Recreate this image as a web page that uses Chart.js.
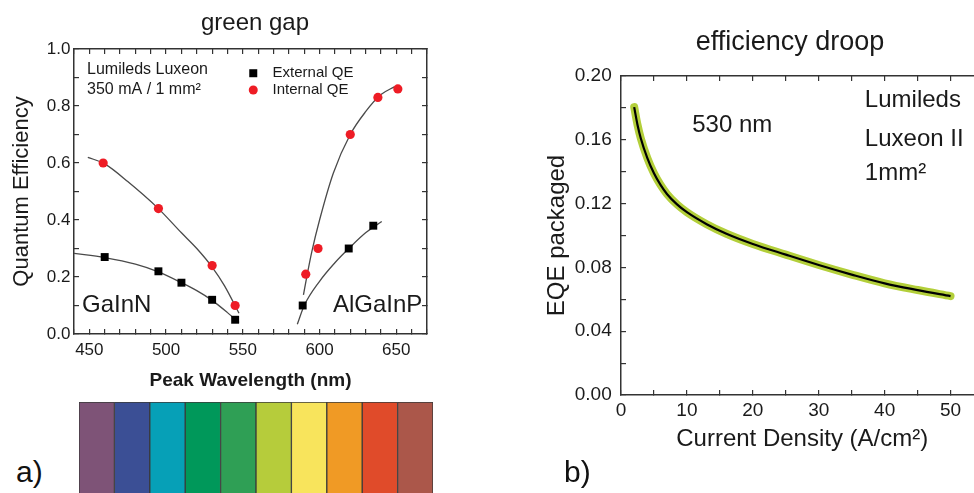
<!DOCTYPE html>
<html>
<head>
<meta charset="utf-8">
<script src="https://cdn.jsdelivr.net/npm/chart.js@4.4.1/dist/chart.umd.min.js"></script>
<style>
  html, body { margin: 0; padding: 0; background: #fff; }
  body { width: 974px; height: 493px; position: relative; overflow: hidden; }
  canvas { position: absolute; }
  .panel { position: absolute; font-family: 'Liberation Sans', Arial, sans-serif; font-size: 30px; line-height: 30px; color: #111; }
</style>
</head>
<body>
<canvas id="gapChart" width="450" height="400" style="left:0px;top:0px"></canvas>
<canvas id="spectrumBar" width="354" height="100" style="left:79px;top:402px"></canvas>
<canvas id="droopChart" width="460" height="493" style="left:540px;top:0px"></canvas>
<div class="panel" style="left:16px;top:457px">a)</div>
<div class="panel" style="left:564px;top:457px">b)</div>

<script>
// ---- a) green gap: quantum efficiency vs peak wavelength ----
const externalWave = [460, 495, 510, 530, 545, 589, 619, 635];
const externalQE   = [0.27, 0.22, 0.18, 0.12, 0.05, 0.10, 0.30, 0.38];
const internalWave = [459, 495, 530, 545, 591, 599, 620, 638, 651];
const internalQE   = [0.60, 0.44, 0.24, 0.10, 0.21, 0.30, 0.70, 0.83, 0.86];

// guide curves
const fitIntGaInNWave = [449, 460, 475, 495, 510, 520, 530, 538, 547.5];
const fitIntGaInNQE   = [0.62, 0.597, 0.535, 0.44, 0.355, 0.30, 0.235, 0.17, 0.073];
const fitExtGaInNWave = [440, 460, 480, 495, 510, 520, 530, 540, 547.5];
const fitExtGaInNQE   = [0.283, 0.268, 0.245, 0.218, 0.18, 0.152, 0.118, 0.075, 0.04];
const fitIntAlGaInPWave = [589.5, 592, 595, 600, 609, 620, 630, 640, 649];
const fitIntAlGaInPQE   = [0.137, 0.21, 0.29, 0.40, 0.565, 0.70, 0.78, 0.84, 0.868];
const fitExtAlGaInPWave = [585.5, 590, 600, 610, 620, 630, 640.5];
const fitExtAlGaInPQE   = [0.034, 0.10, 0.185, 0.25, 0.305, 0.355, 0.395];

// ---- colour strip under panel a) ----
const spectrumBands  = ['violet', 'blue', 'cyan', 'green', 'emerald', 'yellow-green', 'yellow', 'orange', 'red', 'deep red'];
const spectrumColors = ['#7e5377', '#3b4f95', '#06a0b7', '#00985a', '#2f9f55', '#b6cc3b', '#f8e45c', '#f09a25', '#e04b2a', '#ab574a'];
const spectrumValues = [1, 1, 1, 1, 1, 1, 1, 1, 1, 1];

// ---- b) efficiency droop: EQE vs current density ----
const densityJ    = [2, 2.5, 3, 4, 5, 6, 7, 8.5, 10, 13, 16, 20, 25, 30, 35, 40, 45, 50];
const eqePackaged = [0.1805, 0.1695, 0.161, 0.1485, 0.139, 0.1317, 0.1259, 0.1195, 0.1146, 0.1071,
                     0.1011, 0.0947, 0.088, 0.0815, 0.0755, 0.070, 0.0658, 0.062];

const FONT = "'Liberation Sans', Arial, sans-serif";
const INK = '#1a1a1a';
const FRAME = '#333';

const toPoints = (xs, ys) => xs.map((x, i) => ({ x: x, y: ys[i] }));

// axis on the opposite side, only inward tick marks
function mirrorAxis(position, min, max, step) {
    const horizontal = position === 'top';
    return {
        type: 'linear',
        position: position,
        min: min,
        max: max,
        afterFit: s => { if (horizontal) s.height = 0; else s.width = 0; },
        border: { color: FRAME, width: 1.5 },
        grid: { drawOnChartArea: false, tickLength: -5, color: FRAME, lineWidth: 1.2 },
        ticks: { display: false, stepSize: step, autoSkip: false }
    };
}

// heading above the frame plus text notes placed in data coordinates
function notesPlugin(heading, notes) {
    return {
        id: 'notes',
        afterDraw(chart) {
            const { ctx, scales } = chart;
            ctx.save();
            ctx.font = heading.size + 'px ' + FONT;
            ctx.fillStyle = INK;
            ctx.textAlign = 'center';
            ctx.textBaseline = 'middle';
            ctx.fillText(heading.text, heading.x, heading.y);

            notes.forEach(n => {
                const px = scales.x.getPixelForValue(n.x);
                const py = scales.y.getPixelForValue(n.y);
                if (n.marker === 'square') {
                    ctx.fillStyle = '#000';
                    ctx.fillRect(px - 4, py - 4, 8, 8);
                    return;
                }
                if (n.marker === 'circle') {
                    ctx.fillStyle = '#ee1c25';
                    ctx.beginPath();
                    ctx.arc(px, py, 4.5, 0, Math.PI * 2);
                    ctx.fill();
                    return;
                }
                ctx.font = n.size + 'px ' + FONT;
                ctx.fillStyle = INK;
                ctx.textAlign = 'left';
                ctx.textBaseline = 'middle';
                ctx.fillText(n.text, px, py);
            });
            ctx.restore();
        }
    };
}

function fitLine(xs, ys) {
    return {
        data: toPoints(xs, ys),
        showLine: true,
        borderColor: '#4a4a4a',
        borderWidth: 1.3,
        pointRadius: 0,
        cubicInterpolationMode: 'monotone',
        order: 2
    };
}

new Chart(document.getElementById('gapChart'), {
    type: 'scatter',
    data: {
        datasets: [
            {
                label: 'External QE',
                data: toPoints(externalWave, externalQE),
                pointStyle: 'rect',
                pointRadius: 5.6,
                backgroundColor: '#000',
                borderColor: '#000',
                borderWidth: 0,
                order: 0
            },
            {
                label: 'Internal QE',
                data: toPoints(internalWave, internalQE),
                pointStyle: 'circle',
                pointRadius: 4.6,
                backgroundColor: '#ee1c25',
                borderColor: '#ee1c25',
                borderWidth: 0,
                order: 1
            },
            fitLine(fitIntGaInNWave, fitIntGaInNQE),
            fitLine(fitExtGaInNWave, fitExtGaInNQE),
            fitLine(fitIntAlGaInPWave, fitIntAlGaInPQE),
            fitLine(fitExtAlGaInPWave, fitExtAlGaInPQE)
        ]
    },
    options: {
        responsive: false,
        animation: false,
        events: [],
        layout: { padding: { left: 0, right: 23, top: 49, bottom: 0 } },
        plugins: {
            legend: { display: false },
            tooltip: { enabled: false }
        },
        scales: {
            x: {
                type: 'linear',
                position: 'bottom',
                min: 440,
                max: 670,
                afterFit: s => { s.height = 66; },
                border: { color: FRAME, width: 1.5 },
                grid: { drawOnChartArea: false, tickLength: -5, color: FRAME, lineWidth: 1.2 },
                ticks: {
                    stepSize: 10,
                    autoSkip: false,
                    maxRotation: 0,
                    padding: 10.8,
                    color: INK,
                    font: { family: FONT, size: 17 },
                    callback: v => (Math.round(v) % 50 === 0 ? String(Math.round(v)) : '')
                },
                title: {
                    display: true,
                    text: 'Peak Wavelength (nm)',
                    color: INK,
                    font: { family: FONT, size: 19, weight: 'bold' },
                    padding: { top: 0, bottom: 8 }
                }
            },
            xTop: mirrorAxis('top', 440, 670, 10),
            y: {
                type: 'linear',
                position: 'left',
                min: 0,
                max: 1,
                afterFit: s => { s.width = 74; },
                border: { color: FRAME, width: 1.5 },
                grid: { drawOnChartArea: false, tickLength: -5, color: FRAME, lineWidth: 1.2 },
                ticks: {
                    stepSize: 0.1,
                    autoSkip: false,
                    padding: 8.5,
                    color: INK,
                    font: { family: FONT, size: 17 },
                    callback: v => (Math.round(v * 10) % 2 === 0 ? v.toFixed(1) : '')
                },
                title: {
                    display: true,
                    text: 'Quantum Efficiency',
                    color: INK,
                    font: { family: FONT, size: 22, weight: 'normal' },
                    padding: { top: 8.8, bottom: 0 }
                }
            },
            yRight: mirrorAxis('right', 0, 1, 0.1)
        }
    },
    plugins: [notesPlugin({ text: 'green gap', x: 255, y: 23, size: 24 }, [
        { text: 'Lumileds Luxeon', x: 448.5, y: 0.926, size: 16 },
        { text: '350 mA / 1 mm²', x: 448.5, y: 0.856, size: 16 },
        { marker: 'square', x: 556.8, y: 0.915 },
        { text: 'External QE', x: 569.4, y: 0.915, size: 15 },
        { marker: 'circle', x: 556.8, y: 0.856 },
        { text: 'Internal QE', x: 569.4, y: 0.856, size: 15 },
        { text: 'GaInN', x: 445.2, y: 0.102, size: 24 },
        { text: 'AlGaInP', x: 608.7, y: 0.102, size: 24 }
    ])]
});

new Chart(document.getElementById('spectrumBar'), {
    type: 'bar',
    data: {
        labels: spectrumBands,
        datasets: [{
            data: spectrumValues,
            backgroundColor: spectrumColors,
            borderColor: '#3a3a3a',
            borderWidth: 1,
            borderSkipped: false,
            barPercentage: 1,
            categoryPercentage: 1
        }]
    },
    options: {
        responsive: false,
        animation: false,
        events: [],
        layout: { padding: 0 },
        plugins: { legend: { display: false }, tooltip: { enabled: false } },
        scales: {
            x: { display: false },
            y: { display: false, min: 0, max: 1 }
        }
    }
});

new Chart(document.getElementById('droopChart'), {
    type: 'scatter',
    data: {
        datasets: [
            {
                label: 'EQE',
                data: toPoints(densityJ, eqePackaged),
                showLine: true,
                borderColor: '#000',
                borderWidth: 2.2,
                pointRadius: 0,
                cubicInterpolationMode: 'monotone',
                order: 0
            },
            {
                label: 'EQE band',
                data: toPoints(densityJ, eqePackaged),
                showLine: true,
                borderColor: '#b3cf3a',
                borderWidth: 8,
                borderCapStyle: 'round',
                pointRadius: 0,
                cubicInterpolationMode: 'monotone',
                order: 1
            }
        ]
    },
    options: {
        responsive: false,
        animation: false,
        events: [],
        layout: { padding: { left: 0, right: 16.5, top: 76, bottom: 0 } },
        plugins: {
            legend: { display: false },
            tooltip: { enabled: false }
        },
        scales: {
            x: {
                type: 'linear',
                position: 'bottom',
                min: 0,
                max: 55,
                afterFit: s => { s.height = 98; },
                border: { color: FRAME, width: 1.5 },
                grid: { drawOnChartArea: false, tickLength: -5, color: FRAME, lineWidth: 1.2 },
                ticks: {
                    stepSize: 5,
                    autoSkip: false,
                    maxRotation: 0,
                    padding: 9,
                    color: INK,
                    font: { family: FONT, size: 19 },
                    callback: v => (Math.round(v) % 10 === 0 ? String(Math.round(v)) : '')
                },
                title: {
                    display: true,
                    text: 'Current Density (A/cm²)',
                    color: INK,
                    font: { family: FONT, size: 24, weight: 'normal' },
                    padding: { top: 0, bottom: 39.2 }
                }
            },
            xTop: mirrorAxis('top', 0, 55, 5),
            y: {
                type: 'linear',
                position: 'left',
                min: 0,
                max: 0.2,
                afterFit: s => { s.width = 81; },
                border: { color: FRAME, width: 1.5 },
                grid: { drawOnChartArea: false, tickLength: -5, color: FRAME, lineWidth: 1.2 },
                ticks: {
                    stepSize: 0.02,
                    autoSkip: false,
                    padding: 14.3,
                    color: INK,
                    font: { family: FONT, size: 19 },
                    callback: v => (Math.round(v * 100) % 4 === 0 ? v.toFixed(2) : '')
                },
                title: {
                    display: true,
                    text: 'EQE packaged',
                    color: INK,
                    font: { family: FONT, size: 24, weight: 'normal' },
                    padding: { top: 2.6, bottom: 0 }
                }
            },
            yRight: mirrorAxis('right', 0, 0.2, 0.02)
        }
    },
    plugins: [notesPlugin({ text: 'efficiency droop', x: 250, y: 43, size: 27 }, [
        { text: '530 nm', x: 10.8, y: 0.169, size: 24 },
        { text: 'Lumileds', x: 37.0, y: 0.185, size: 24 },
        { text: 'Luxeon II', x: 37.0, y: 0.160, size: 24 },
        { text: '1mm²', x: 37.0, y: 0.139, size: 24 }
    ])]
});
</script>
</body>
</html>
